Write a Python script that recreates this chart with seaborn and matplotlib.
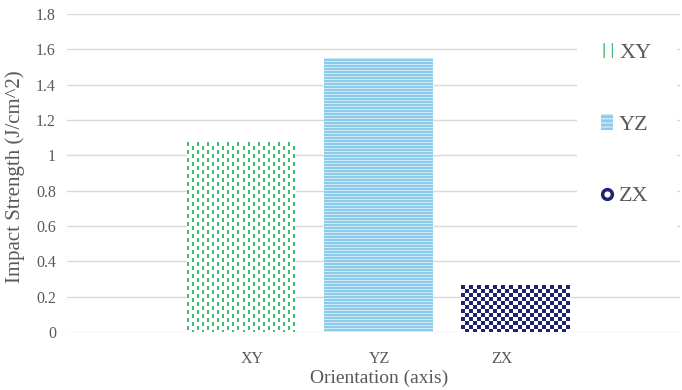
import numpy as np
import pandas as pd
import matplotlib
matplotlib.use("Agg")
import matplotlib.pyplot as plt
import matplotlib.transforms as mtransforms
from matplotlib.patches import Patch
from matplotlib.lines import Line2D
import seaborn as sns

# Impact strength by print orientation
orientations = ["XY", "YZ", "ZX"]
impact_strength = [1.075, 1.55, 0.265]
y_ticks = [0, 0.2, 0.4, 0.6, 0.8, 1.0, 1.2, 1.4, 1.6, 1.8]
y_tick_labels = ["0", "0.2", "0.4", "0.6", "0.8", "1", "1.2", "1.4", "1.6", "1.8"]

TEXT = "#595959"
GRID = "#D9D9D9"
GREEN = np.array([61, 190, 114]) / 255
BLUE = np.array([141, 203, 234]) / 255
BLUE_LIGHT = np.array([205, 233, 247]) / 255
NAVY = np.array([31, 36, 112]) / 255

sns.set_theme(style="white")
plt.rcParams["font.family"] = ["Liberation Serif", "DejaVu Serif"]

df = pd.DataFrame({"Orientation": orientations, "Impact": impact_strength})

fig = plt.figure(figsize=(6.82, 3.90), dpi=100)
ax = fig.add_axes([67 / 682, 58 / 390, 613 / 682, 318 / 390])

sns.barplot(data=df, x="Orientation", y="Impact", ax=ax, width=0.79,
            color="white", edgecolor="none", linewidth=0, zorder=2)


# Pixel-level fill patterns for each bar
def dashes(h, w):
    yy, xx = np.mgrid[0:h, 0:w]
    img = np.ones((h, w, 3))
    col = xx // 5
    mask = (xx % 5 < 2) & (((yy + (col % 2) * 4) % 8) < 4)
    img[mask] = GREEN
    return img


def stripes(h, w):
    yy, xx = np.mgrid[0:h, 0:w]
    img = np.empty((h, w, 3))
    img[:] = BLUE
    img[yy % 3 == 0] = BLUE_LIGHT
    return img


def checker(h, w):
    yy, xx = np.mgrid[0:h, 0:w]
    img = np.ones((h, w, 3))
    img[((xx // 4 + yy // 4) % 2) == 0] = NAVY
    return img


ax.set_xlim(-1.274, 3.2)
ax.set_ylim(0, 1.8)

fig.canvas.draw()
for bar, texture in zip(ax.patches, [dashes, stripes, checker]):
    bb = bar.get_window_extent()
    h, w = max(int(round(bb.height)), 1), max(int(round(bb.width)), 1)
    x0, y0 = bar.get_x(), bar.get_y()
    im = ax.imshow(texture(h, w), extent=(x0, x0 + bar.get_width(), y0, y0 + bar.get_height()),
                   aspect="auto", interpolation="nearest", zorder=2.5, origin="upper")
    im.set_clip_path(bar)

ax.set_xlim(-1.274, 3.2)
ax.set_ylim(0, 1.8)

ax.yaxis.grid(True, color=GRID, linewidth=1)
ax.xaxis.grid(False)
ax.set_axisbelow(True)
for s in ax.spines.values():
    s.set_visible(False)

ax.set_yticks(y_ticks)
ax.set_yticklabels(y_tick_labels)
ax.tick_params(axis="y", length=0, pad=8, labelsize=11.5, labelcolor=TEXT)
ax.tick_params(axis="x", length=0, pad=14, labelsize=11.5, labelcolor=TEXT)

# category labels sit slightly toward the middle of the axis
for lab, dx in zip(ax.get_xticklabels(), [7.5, 1.0, -10.0]):
    lab.set_transform(lab.get_transform() + mtransforms.ScaledTranslation(dx / 72, 0, fig.dpi_scale_trans))

ax.set_xlabel("Orientation (axis)", fontsize=14, color=TEXT)
ax.set_ylabel("Impact Strength (J/cm^2)", fontsize=15, color=TEXT)
ax.xaxis.set_label_coords(0.509, -0.145)
ax.xaxis.label.set_va("center")
ax.yaxis.set_label_coords(-0.085, 0.487)
ax.yaxis.label.set_va("center")

handles = [
    Patch(facecolor="white", edgecolor=GREEN, hatch="||", linewidth=0),
    Patch(facecolor=BLUE, edgecolor=BLUE_LIGHT, hatch="----", linewidth=0),
    Line2D([], [], linestyle="none", marker="o", markersize=7,
           markerfacecolor="white", markeredgecolor=NAVY, markeredgewidth=2.5),
]
leg = ax.legend(handles, orientations, loc="upper left",
                bbox_to_anchor=(577 / 682, 1 - 22 / 390, 100 / 682, 0.01),
                bbox_transform=fig.transFigure, mode="expand",
                frameon=True, facecolor="white", edgecolor="none", framealpha=1,
                fancybox=False, fontsize=16, handlelength=0.5, handleheight=0.7,
                handletextpad=0.3, labelspacing=2.3, borderpad=1.1, borderaxespad=0)
for t in leg.get_texts():
    t.set_color(TEXT)

fig.savefig("out.png", dpi=100)
